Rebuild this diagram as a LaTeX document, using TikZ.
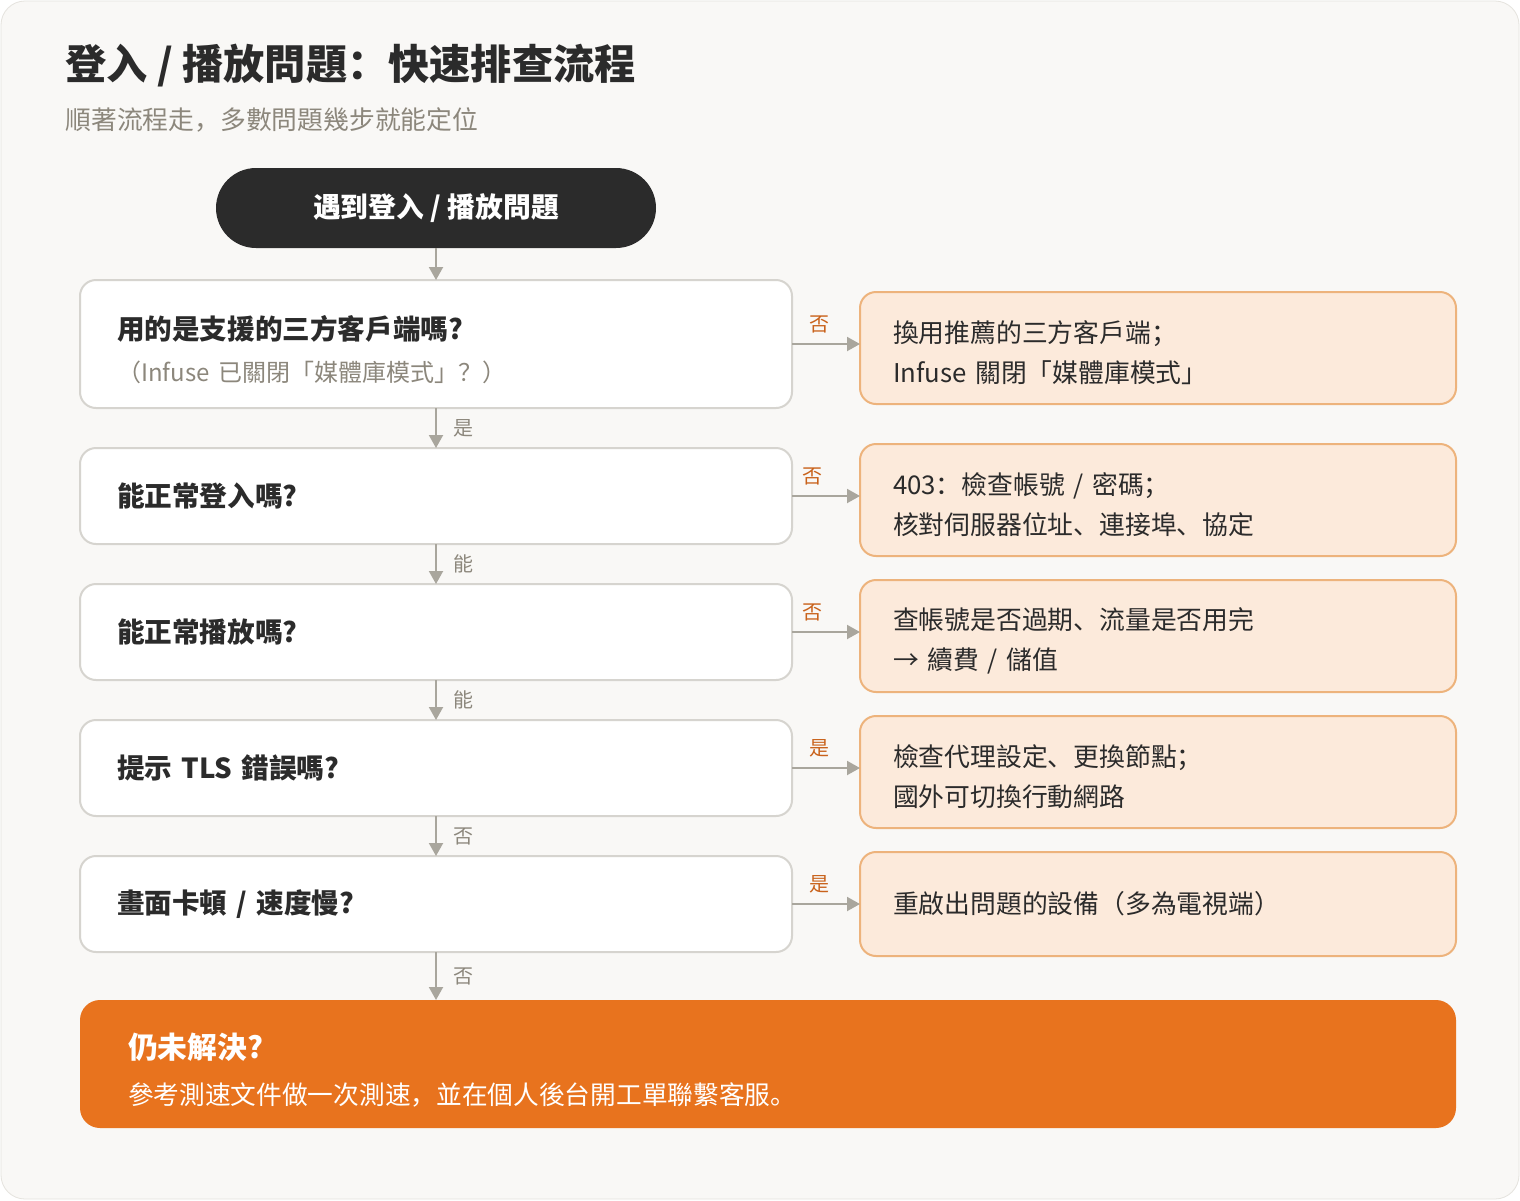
\documentclass[tikz,border=0pt]{standalone}
\usepackage{fontspec}
\setmainfont{Noto Sans CJK SC}
\usetikzlibrary{positioning,arrows.meta}
\definecolor{cardbg}{HTML}{F9F8F6}
\definecolor{cardline}{HTML}{E5E3DE}
\definecolor{ink}{HTML}{2B2B2B}
\definecolor{subgray}{HTML}{8C877C}
\definecolor{qline}{HTML}{D6D4CF}
\definecolor{arrowc}{HTML}{A9A69D}
\definecolor{afill}{HTML}{FCEADB}
\definecolor{aline}{HTML}{EDB37C}
\definecolor{nolabel}{HTML}{C9621B}
\definecolor{finalc}{HTML}{E8731E}

\begin{document}
\begin{tikzpicture}[x=0.5pt, y=-0.5pt,
  pill/.style={fill=ink, text=white, rounded corners=20pt, minimum width=220pt, minimum height=40pt, outer sep=0pt, font=\fontsize{13.9pt}{16pt}\selectfont\bfseries},
  question/.style={draw=qline, fill=white, line width=1pt, rounded corners=8pt, minimum width=356pt, minimum height=48pt, text width=319pt, inner xsep=18.5pt, outer sep=0pt, align=left, text=ink, font=\fontsize{13.8pt}{20pt}\selectfont\bfseries},
  answer/.style={draw=aline, fill=afill, line width=1pt, rounded corners=8pt, minimum width=298pt, minimum height=56pt, text width=265pt, inner xsep=16.5pt, outer sep=0pt, align=left, text=ink, font=\fontsize{12.9pt}{20pt}\selectfont},
  twoline/.style={answer, execute at begin node={\rule{0pt}{15.4pt}}},
  final/.style={fill=finalc, text=white, rounded corners=10pt, minimum width=688pt, minimum height=64pt, text width=640pt, inner xsep=24pt, outer sep=0pt, align=left, font=\fontsize{12.85pt}{20pt}\selectfont},
  flow/.style={auto, every edge/.style={draw=arrowc, line width=1pt, -{Triangle[length=6.5pt,width=7pt]}}},
  vlabel/.style={inner xsep=8pt, text=subgray, font=\fontsize{10pt}{12pt}\selectfont},
  hlabel/.style={inner ysep=5pt, text=nolabel, font=\fontsize{10pt}{12pt}\selectfont}]
  \useasboundingbox (0,0) rectangle (1520,1200);
  \fill[white] (0,0) rectangle (1520,1200);
  \draw[cardline, fill=cardbg, rounded corners=12pt] (1,1) rectangle (1519,1199);

  % Heading
  \node[anchor=west, inner sep=0, text=ink, font=\fontsize{20.6pt}{24pt}\selectfont\bfseries] (title) at (65,66) {登入 / 播放問題：快速排查流程};
  \node[anchor=west, inner sep=0, text=subgray, font=\fontsize{12.9pt}{16pt}\selectfont] (subtitle) at (65,120) {順著流程走，多數問題幾步就能定位};

  % Checks, top to bottom
  \node[pill] (start) at (436,208) {遇到登入 / 播放問題};
  \node[question, minimum height=64pt] (q1) [below=16pt of start] {\rule{0pt}{18pt}用的是支援的三方客戶端嗎?\\[1pt]{\mdseries\fontsize{12pt}{18pt}\selectfont\color{subgray}（Infuse 已關閉「媒體庫模式」？）}};
  \node[question] (q2) [below=20pt of q1] {能正常登入嗎?};
  \node[question] (q3) [below=20pt of q2] {能正常播放嗎?};
  \node[question] (q4) [below=20pt of q3] {提示 TLS 錯誤嗎?};
  \node[question] (q5) [below=20pt of q4] {畫面卡頓 / 速度慢?};
  \node[final, below=24pt of q5.south west, anchor=north west] (fin) {\rule{0pt}{18.5pt}{\fontsize{14.9pt}{18pt}\selectfont\bfseries 仍未解決?}\\[3pt]參考測速文件做一次測速，並在個人後台開工單聯繫客服。};

  % Fixes on the right
  \node[twoline] (a1) [right=34pt of q1, yshift=-2pt] {換用推薦的三方客戶端；\\Infuse 關閉「媒體庫模式」};
  \node[twoline] (a2) [right=34pt of q2, yshift=-2pt] {403：檢查帳號 / 密碼；\\核對伺服器位址、連接埠、協定};
  \node[twoline] (a3) [right=34pt of q3, yshift=-2pt] {查帳號是否過期、流量是否用完\\→ 續費 / 儲值};
  \node[twoline] (a4) [right=34pt of q4, yshift=-2pt] {檢查代理設定、更換節點；\\國外可切換行動網路};
  \node[answer, minimum height=52pt] (a5) [right=34pt of q5] {重啟出問題的設備（多為電視端）};

  % Arrows
  \path[flow]
    (start) edge (q1)
    (q1) edge node[vlabel] {是} (q2)
    (q2) edge node[vlabel] {能} (q3)
    (q3) edge node[vlabel] {能} (q4)
    (q4) edge node[vlabel] {否} (q5)
    (q5) edge node[vlabel] {否} (q5.south |- fin.north)
    (q1.east) edge node[hlabel, pos=0.4] {否} (q1.east -| a1.west)
    (q2.east) edge node[hlabel, pos=0.3] {否} (q2.east -| a2.west)
    (q3.east) edge node[hlabel, pos=0.3] {否} (q3.east -| a3.west)
    (q4.east) edge node[hlabel, pos=0.4] {是} (q4.east -| a4.west)
    (q5) edge node[hlabel, pos=0.4] {是} (a5);
\end{tikzpicture}
\end{document}
